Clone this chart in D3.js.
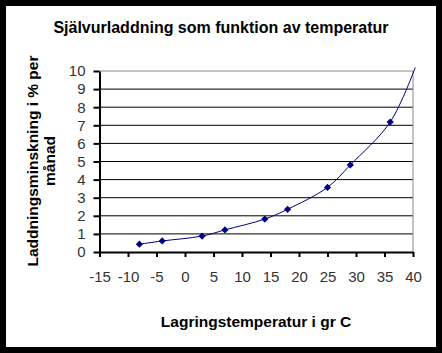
<!DOCTYPE html>
<html>
<head>
<meta charset="utf-8">
<script src="https://cdn.jsdelivr.net/npm/d3@7"></script>
<style>
  html, body { margin: 0; padding: 0; background: #000; }
  svg { display: block; font-family: "Liberation Sans", Arial, sans-serif; }
  .tick text { font-size: 15px; fill: #333; }
</style>
</head>
<body>
<div id="chart"></div>
<script>
// values
const temps = [-8, -4, 3, 7, 14, 18, 25, 29, 36, 40.4];
const rates = [0.43, 0.61, 0.88, 1.22, 1.82, 2.36, 3.57, 4.81, 7.18, 10.2];
const xTicks = [-15, -10, -5, 0, 5, 10, 15, 20, 25, 30, 35, 40];
const yTicks = [0, 1, 2, 3, 4, 5, 6, 7, 8, 9, 10];

const title = "Självurladdning som funktion av temperatur";
const xTitle = "Lagringstemperatur i gr C";
const yTitle = ["Laddningsminskning i % per", "månad"];

const width = 442, height = 353;
const plot = { left: 99.5, right: 413, top: 71, bottom: 252 };

const svg = d3.select("#chart").append("svg")
    .attr("width", width)
    .attr("height", height);

// black frame, white page
svg.append("rect").attr("width", width).attr("height", height).attr("fill", "#000");
svg.append("rect")
    .attr("x", 6).attr("y", 6)
    .attr("width", width - 12).attr("height", height - 12)
    .attr("fill", "#fff");

const x = d3.scaleLinear().domain([-15, 40]).range([plot.left, plot.right]);
const y = d3.scaleLinear().domain([0, 10]).range([plot.bottom, plot.top]);

// gridlines
svg.append("g")
    .selectAll("line")
    .data(yTicks.filter(d => d > 0 && d < 10))
    .join("line")
    .attr("x1", plot.left).attr("x2", plot.right)
    .attr("y1", d => y(d)).attr("y2", d => y(d))
    .attr("stroke", "#000").attr("stroke-width", 1);

// plot area border (top / right, grey)
svg.append("path")
    .attr("d", `M${plot.left},${y(10)}H${plot.right}V${plot.bottom}`)
    .attr("fill", "none")
    .attr("stroke", "#888")
    .attr("stroke-width", 1);

// axes - plain hyphen minus like the original
const fmt = d => String(d);

const xAxis = svg.append("g")
    .attr("transform", `translate(0,${plot.bottom})`)
    .call(d3.axisBottom(x).tickValues(xTicks).tickFormat(fmt)
        .tickSize(5).tickSizeOuter(0).tickPadding(14));

const yAxis = svg.append("g")
    .attr("transform", `translate(${plot.left},0)`)
    .call(d3.axisLeft(y).tickValues(yTicks).tickFormat(fmt)
        .tickSize(6).tickSizeOuter(0).tickPadding(8));

[xAxis, yAxis].forEach(a => {
    a.select(".domain").attr("stroke", "#000").attr("stroke-width", 2);
    a.selectAll(".tick line").attr("stroke", "#000").attr("stroke-width", 2);
    a.selectAll(".tick text").attr("font-family", "Liberation Sans, Arial, sans-serif");
});

// series
const points = temps.map((t, i) => ({ t: t, v: rates[i] }));

const line = d3.line()
    .x(d => x(d.t))
    .y(d => y(d.v))
    .curve(d3.curveCatmullRom);

svg.append("path")
    .datum(points)
    .attr("d", line)
    .attr("fill", "none")
    .attr("stroke", "#000080")
    .attr("stroke-width", 1);

svg.append("g")
    .selectAll("path")
    .data(points.filter(d => d.t <= 40))
    .join("path")
    .attr("d", "M0,-3.6L3.6,0L0,3.6L-3.6,0Z")
    .attr("transform", d => `translate(${x(d.t)},${y(d.v)})`)
    .attr("fill", "#000080");

// titles
svg.append("text")
    .attr("x", 221).attr("y", 33)
    .attr("text-anchor", "middle")
    .attr("font-size", 16).attr("font-weight", "bold")
    .text(title);

svg.append("text")
    .attr("x", 256).attr("y", 327)
    .attr("text-anchor", "middle")
    .attr("font-size", 15.5).attr("font-weight", "bold")
    .text(xTitle);

svg.append("text")
    .attr("transform", "translate(38,161) rotate(-90)")
    .attr("text-anchor", "middle")
    .attr("font-size", 15.5).attr("font-weight", "bold")
    .selectAll("tspan")
    .data(yTitle)
    .join("tspan")
    .attr("x", 0)
    .attr("dy", (d, i) => i === 0 ? 0 : 17)
    .text(d => d);
</script>
</body>
</html>
